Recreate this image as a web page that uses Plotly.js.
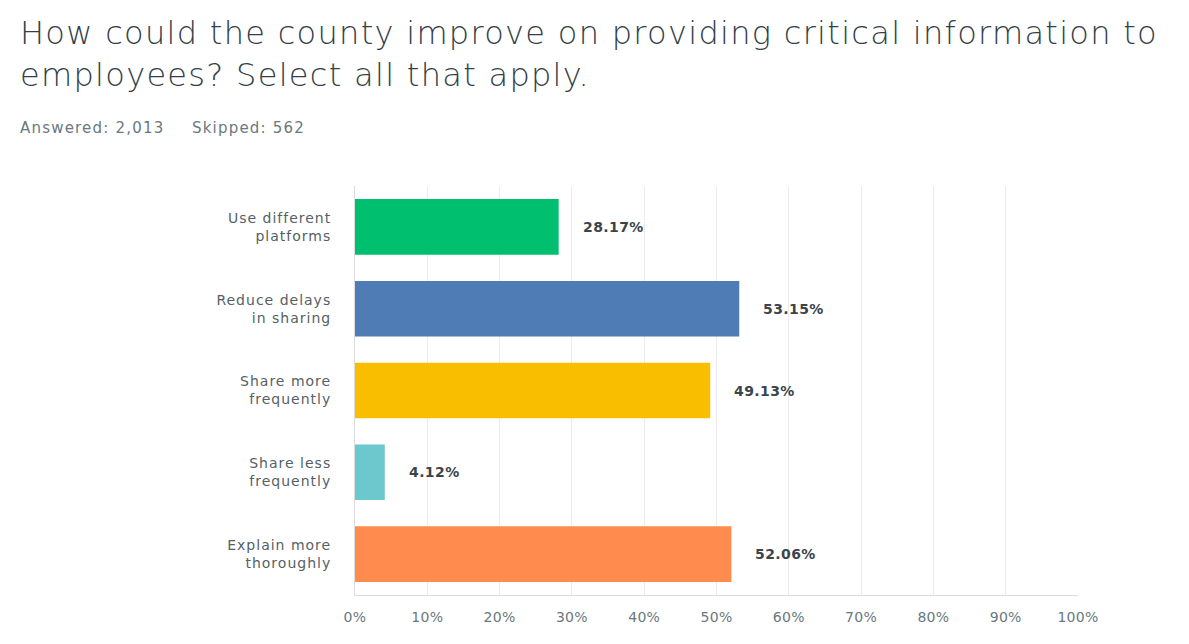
<!DOCTYPE html>
<html>
<head>
<meta charset="utf-8">
<script src="https://cdn.plot.ly/plotly-3.0.1.min.js"></script>
<style>
html,body{margin:0;padding:0;background:#fff;}
#chart{width:1189px;height:644px;box-sizing:border-box;border-right:1px solid #d4d4d4;}
#chart .ytick text{letter-spacing:1px;}
#chart .xtick text{letter-spacing:0.3px;}
</style>
</head>
<body>
<div id="chart"></div>
<script>
const categories = [
  "Use different<br>platforms",
  "Reduce delays<br>in sharing",
  "Share more<br>frequently",
  "Share less<br>frequently",
  "Explain more<br>thoroughly"
];
const values = [28.17, 53.15, 49.13, 4.12, 52.06];
const barColors = ["#00bf6f", "#507cb6", "#f9be00", "#6bc8cd", "#ff8b4f"];
const tickVals = [0, 10, 20, 30, 40, 50, 60, 70, 80, 90, 100];
const tickLabels = ["0%", "10%", "20%", "30%", "40%", "50%", "60%", "70%", "80%", "90%", "100%"];
const titleLines = ["How could the county improve on providing critical information to", "employees? Select all that apply."];
const answeredText = "Answered: 2,013";
const skippedText = "Skipped: 562";

const FONT = "DejaVu Sans, sans-serif";
const plotW = 723, plotH = 409, mL = 355, mT = 186;
const px = v => (v - mL) / plotW;
const py = v => 1 - (v - mT) / plotH;
const spaced = (t, s) => '<span style="letter-spacing:' + s + 'px">' + t + '</span>';

const valueAnnotations = values.map((v, i) => ({
  x: v, y: categories[i], xref: "x", yref: "y",
  text: spaced(v.toFixed(2) + "%", 0.4), showarrow: false,
  xanchor: "left", xshift: 22,
  font: {family: FONT, size: 14, color: "#3b444b", weight: 700}
}));

const data = [{
  type: "bar",
  orientation: "h",
  x: values,
  y: categories,
  marker: {color: barColors},
  hoverinfo: "none"
}];

const layout = {
  width: 1189,
  height: 644,
  paper_bgcolor: "#ffffff",
  plot_bgcolor: "#ffffff",
  margin: {l: 355, r: 111, t: 186, b: 49},
  showlegend: false,
  bargap: 0.32,
  xaxis: {
    range: [0, 100],
    tickvals: tickVals,
    ticktext: tickLabels,
    showgrid: true,
    gridcolor: "#ebebeb",
    gridwidth: 1,
    zeroline: false,
    showline: true,
    linecolor: "#dcdcdc",
    ticks: "",
    tickfont: {family: FONT, size: 14, color: "#6a7880"},
    ticklabelstandoff: 9,
    fixedrange: true
  },
  yaxis: {
    autorange: "reversed",
    showgrid: false,
    zeroline: false,
    showline: true,
    linecolor: "#dcdcdc",
    ticks: "",
    tickfont: {family: FONT, size: 14, color: "#555f66"},
    ticklabelstandoff: 20,
    fixedrange: true
  },
  annotations: valueAnnotations.concat([
    {
      xref: "paper", yref: "paper",
      x: px(18), y: py(12),
      xanchor: "left", yanchor: "top", align: "left",
      text: titleLines.map(l => spaced(l, 1.3)).join("<br>"), showarrow: false,
      font: {family: FONT, size: 32, color: "#333e48", weight: 300}
    },
    {
      xref: "paper", yref: "paper",
      x: px(18), y: py(128),
      xanchor: "left", yanchor: "middle",
      text: spaced(answeredText, 1.2), showarrow: false,
      font: {family: FONT, size: 15, color: "#6a7880"}
    },
    {
      xref: "paper", yref: "paper",
      x: px(190), y: py(128),
      xanchor: "left", yanchor: "middle",
      text: spaced(skippedText, 1.2), showarrow: false,
      font: {family: FONT, size: 15, color: "#6a7880"}
    }
  ])
};

Plotly.newPlot("chart", data, layout, {displayModeBar: false, staticPlot: true});
</script>
</body>
</html>
